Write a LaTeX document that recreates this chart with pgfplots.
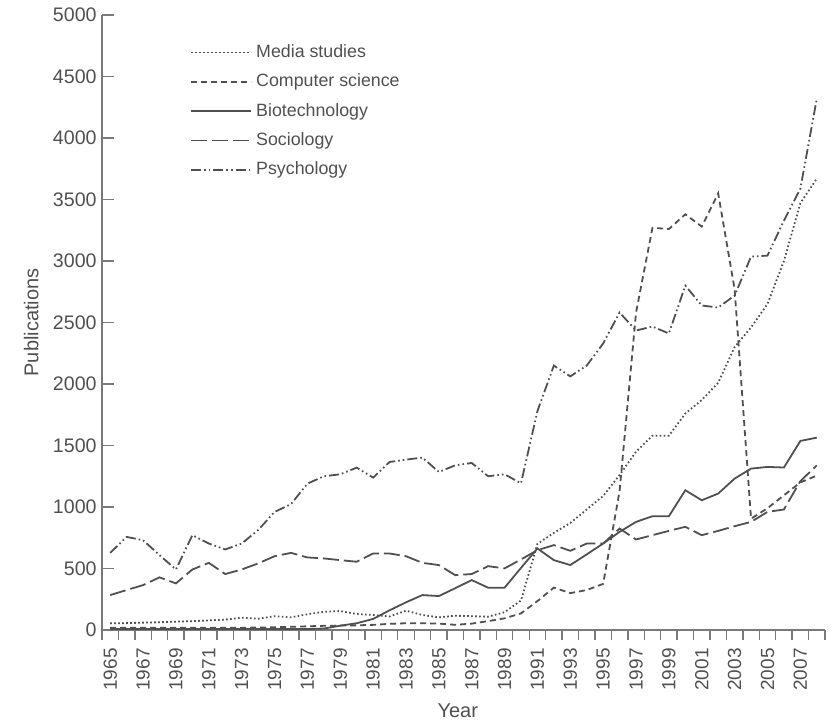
\documentclass[border=0pt]{standalone}
\usepackage{fontspec}
\setmainfont{Liberation Sans}
\usepackage{pgfplots}
\usepackage{pgfplotstable}
\pgfplotsset{compat=1.18}
\definecolor{ink}{HTML}{505050}
\definecolor{axisgrey}{HTML}{7A7A7A}

% year, media studies, computer science, biotechnology, sociology, psychology
\pgfplotstableread{
year media cs   bio  soc  psy
1965 54    18   8    284  627
1966 56    18   8    325  757
1967 60    18   8    365  730
1968 63    18   8    428  609
1969 68    18   8    379  492
1970 72    18   8    492  771
1971 78    18   8    546  703
1972 85    18   8    455  655
1973 100   18   8    492  703
1974 92    20   8    541  812
1975 112   22   8    600  960
1976 103   26   8    627  1023
1977 128   30   8    590  1190
1978 148   34   12   582  1250
1979 154   36   35   568  1266
1980 130   38   55   555  1320
1981 122   42   90   622  1239
1982 110   50   160  622  1366
1983 157   55   225  600  1385
1984 122   55   284  546  1402
1985 103   52   276  528  1285
1986 116   42   340  446  1339
1987 112   52   406  455  1358
1988 108   72   344  519  1250
1989 145   95   344  501  1266
1990 240   135  505  574  1193
1991 700   235  663  649  1780
1992 790   345  568  690  2150
1993 870   300  528  644  2062
1994 980   325  615  703  2150
1995 1090  375  703  703  2330
1996 1260  1130 798  825  2581
1997 1450  2580 879  736  2435
1998 1580  3270 925  771  2467
1999 1580  3260 925  806  2411
2000 1760  3380 1136 839  2800
2001 1870  3280 1055 771  2638
2002 2010  3550 1109 806  2622
2003 2300  2770 1231 844  2719
2004 2460  905  1312 879  3036
2005 2650  990  1326 960  3044
2006 3000  1095 1321 980  3328
2007 3470  1200 1537 1210 3588
2008 3670  1255 1564 1339 4318
}\pubs

\begin{document}
\begin{tikzpicture}
\begin{axis}[
  name=ax,
  scale only axis, width=361.5pt, height=307.5pt,
  xmin=1964.5, xmax=2008.5, ymin=0, ymax=5000,
  axis lines*=left,
  axis line style={axisgrey, line width=0.8pt},
  every tick/.style={axisgrey, line width=0.7pt},
  xtick={1965,1967,...,2007},
  xticklabels={1965,1967,1969,1971,1973,1975,1977,1979,1981,1983,1985,1987,1989,1991,1993,1995,1997,1999,2001,2003,2005,2007},
  major x tick style={draw=none},
  minor xtick={1964.5,1965.5,...,2008.5},
  minor tick length=5pt,
  minor x tick style={axisgrey, line width=0.7pt, yshift=-5pt},
  xticklabel style={rotate=90, anchor=east, inner sep=0pt, xshift=-9pt, font=\fontsize{9.5}{10}\selectfont, text=ink},
  ytick={0,500,...,5000},
  yticklabels={0,500,1000,1500,2000,2500,3000,3500,4000,4500,5000},
  major tick length=6pt,
  yticklabel style={inner sep=0pt, xshift=-2.5pt, font=\fontsize{9.8}{10}\selectfont, text=ink},
  xlabel={Year},
  xlabel style={at={(axis description cs:0.492,-0.132)}, anchor=center, font=\fontsize{10}{11}\selectfont, text=ink},
  ylabel={Publications},
  ylabel style={at={(axis description cs:-0.098,0.5)}, anchor=center, font=\fontsize{10}{11}\selectfont, text=ink},
  legend style={at={(axis description cs:0.1217,0.959)}, anchor=north west, draw=none, fill=none,
    font=\fontsize{8.9}{9}\selectfont, text=ink, row sep=2.7pt, inner sep=0pt},
  legend cell align=left,
  legend image code/.code={\draw[#1] (0pt,0pt) -- (30pt,0pt);},
  every axis plot/.append style={ink, line width=0.9pt},
]
\addplot[dash pattern=on 0.8pt off 1.2pt] table[x=year, y=media] {\pubs};
\addlegendentry{Media studies}
\addplot[dash pattern=on 3pt off 2pt] table[x=year, y=cs] {\pubs};
\addlegendentry{Computer science}
\addplot[solid] table[x=year, y=bio] {\pubs};
\addlegendentry{Biotechnology}
\addplot[dash pattern=on 8pt off 2.5pt] table[x=year, y=soc] {\pubs};
\addlegendentry{Sociology}
\addplot[dash pattern=on 5pt off 1.5pt on 0.8pt off 1.5pt on 0.8pt off 1.5pt] table[x=year, y=psy] {\pubs};
\addlegendentry{Psychology}
\end{axis}
\path (ax.south west) ++(-51pt,-45.5pt) rectangle ++(417.5pt,360.5pt);
\end{tikzpicture}
\end{document}
